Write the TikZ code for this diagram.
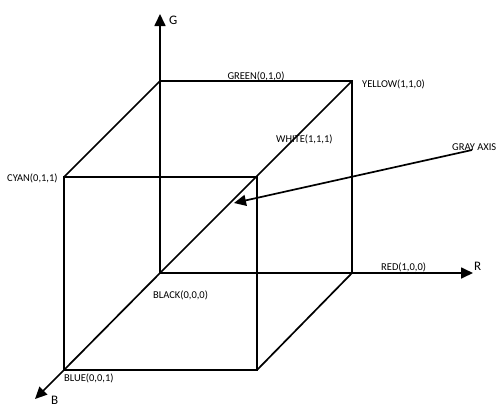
\documentclass[tikz,border=0pt]{standalone}
\usepackage{fontspec}
\setmainfont{Carlito}
\usetikzlibrary{arrows.meta}
\begin{document}
\begin{tikzpicture}[x=1pt,y=-1pt,
  edge/.style={line width=2.2pt},
  thin edge/.style={line width=1.7pt},
  axis/.style={line width=1.7pt,-{Triangle[length=12pt,width=11pt]}},
  lbl/.style={inner sep=0pt,font=\fontsize{10.5}{12}\selectfont},
  axlbl/.style={inner sep=0pt,font=\fontsize{13}{15}\selectfont}]
\useasboundingbox (0,0) rectangle (497,407);
% back face
\coordinate (K) at (160,273);
\coordinate (Gc) at (160,81);
\coordinate (Y) at (352,81);
\coordinate (Rc) at (352,273);
% front face
\coordinate (C) at (64,177);
\coordinate (W) at (257,177);
\coordinate (Bc) at (64,370);
\coordinate (M) at (257,370);
% axis tips
\coordinate (Gt) at (160,14);
\coordinate (Rt) at (473,273);
\coordinate (Bt) at (35,399);
\coordinate (Ga) at (472,150);
\coordinate (Gh) at (234,203);
% cube
\draw[edge] (Gc) -- (Y) -- (Rc) -- (K) -- cycle;
\draw[edge] (C) -- (W) -- (M) -- (Bc) -- cycle;
\draw[thin edge] (C) -- (Gc);
\draw[thin edge] (K) -- (Y);
\draw[thin edge] (Bc) -- (K);
\draw[thin edge] (M) -- (Rc);
% axes
\draw[axis] (Gc) -- (Gt);
\draw[axis] (Rc) -- (Rt);
\draw[axis] (Bc) -- (Bt);
\draw[axis] (Ga) -- (Gh);
% labels
\node[axlbl,anchor=west] (lG) at (169,20) {G};
\node[axlbl,anchor=west] (lR) at (474,266) {R};
\node[axlbl,anchor=north west] (lB) at (51,396) {B};
\node[lbl] (lgreen) at (256,76) {GREEN(0,1,0)};
\node[lbl,anchor=west] (lyellow) at (362,84) {YELLOW(1,1,0)};
\node[lbl,anchor=west] (lcyan) at (7,178) {CYAN(0,1,1)};
\node[lbl,anchor=west] (lwhite) at (276,139) {WHITE(1,1,1)};
\node[lbl,anchor=west] (lgray) at (452,147) {GRAY AXIS};
\node[lbl,anchor=west] (lred) at (381,267) {RED(1,0,0)};
\node[lbl,anchor=west] (lblack) at (153,295) {BLACK(0,0,0)};
\node[lbl,anchor=west] (lblue) at (64,378) {BLUE(0,0,1)};
\end{tikzpicture}
\end{document}
